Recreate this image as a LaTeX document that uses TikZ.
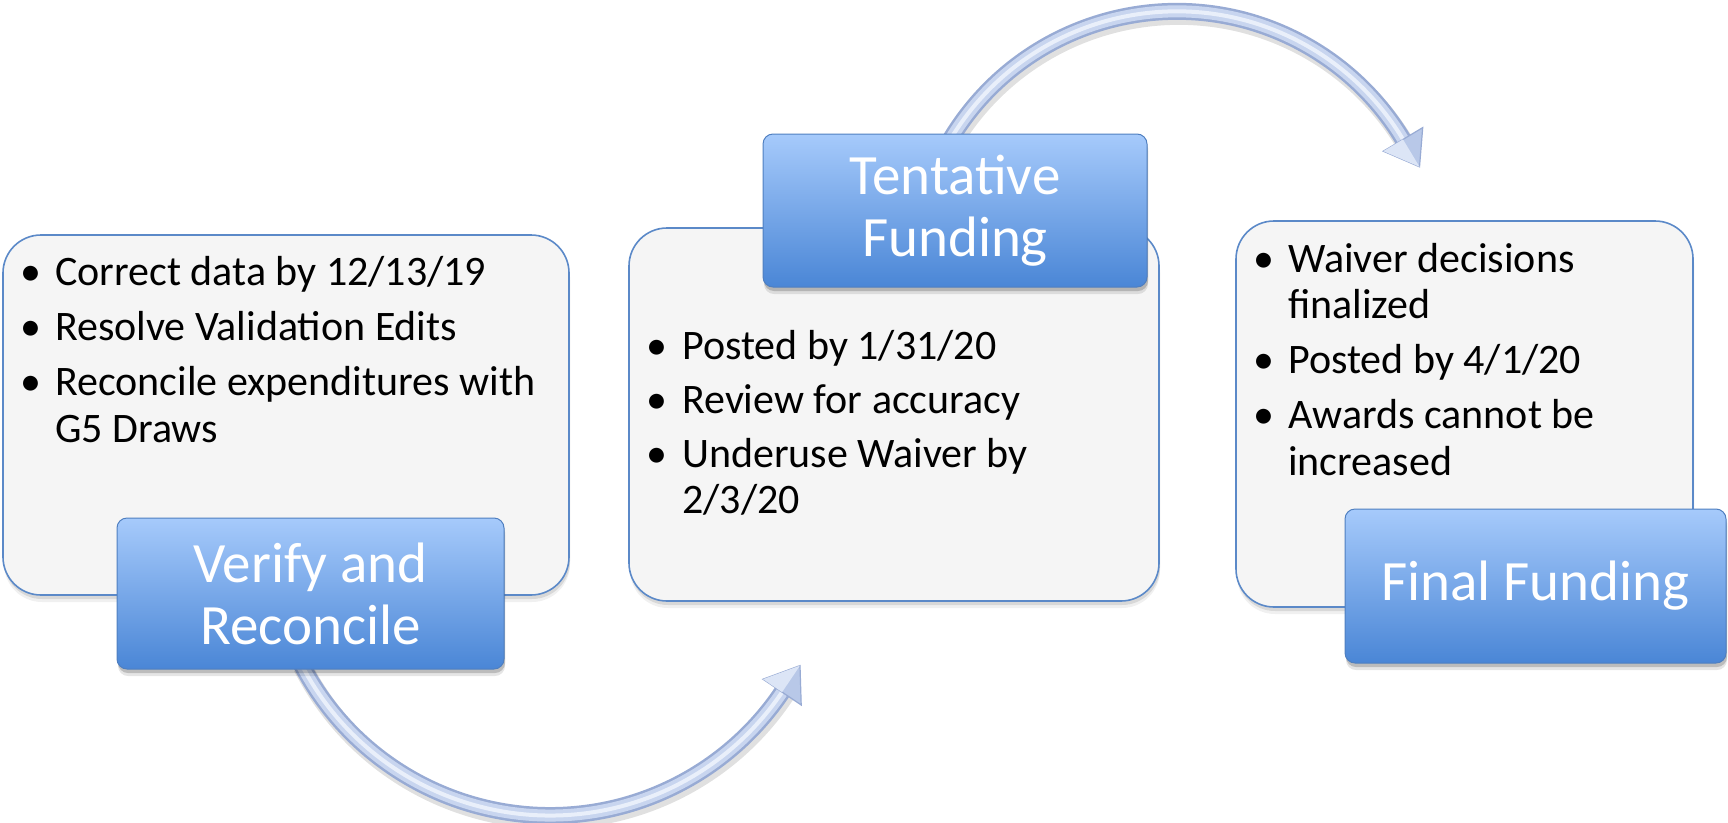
\documentclass[tikz,border=0pt]{standalone}
\usepackage{fontspec}
\setmainfont{Carlito}
\definecolor{boxfill}{HTML}{F5F5F5}
\definecolor{boxedge}{HTML}{5B89C8}
\definecolor{lbltop}{HTML}{A6CAFB}
\definecolor{lblmid}{HTML}{8AB5F2}
\definecolor{lblbot}{HTML}{4A86D6}
\definecolor{lbledge}{HTML}{4F7FC0}
\definecolor{arrout}{HTML}{98ABD4}
\definecolor{arrin}{HTML}{C8D5EF}
\definecolor{arrhi}{HTML}{E9EFFA}
\definecolor{arrhead}{HTML}{B8C8E8}
\definecolor{arrheadhi}{HTML}{DCE5F6}
\newcommand{\bulletbox}[1]{\makebox[#1][l]{•}}
\tikzset{
  infobox/.style={draw=boxedge, line width=1.6pt, fill=boxfill, rounded corners=38pt, inner sep=0pt,
    preaction={fill=black, fill opacity=0.06, transform canvas={xshift=1pt,yshift=-7pt}},
    preaction={fill=black, fill opacity=0.10, transform canvas={xshift=1pt,yshift=-4pt}}},
  stagebox/.style={draw=lbledge, line width=1pt, rounded corners=10pt, top color=lbltop,
    middle color=lblmid, bottom color=lblbot, text=white, align=center,
    font=\fontsize{57}{62}\selectfont, inner sep=0pt,
    preaction={fill=black, fill opacity=0.10, transform canvas={xshift=1pt,yshift=-7pt}},
    preaction={fill=black, fill opacity=0.18, transform canvas={xshift=1pt,yshift=-4pt}}},
  bl/.style={anchor=base west, inner sep=0pt, text=black, font=\fontsize{42}{47}\selectfont},
  arrshadow/.style={draw=black, draw opacity=0.12, line width=19pt, line cap=butt,
    transform canvas={xshift=2pt,yshift=-4pt}},
  arrouter/.style={draw=arrout, line width=17pt, line cap=butt},
  arrinner/.style={draw=arrin, line width=12pt, line cap=butt},
  arrhigh/.style={draw=arrhi, line width=4pt, line cap=butt},
  arrtip/.style={fill=arrhead, draw=arrout, line width=1.2pt, line join=miter},
  arrtiphi/.style={fill=arrheadhi},
}
\begin{document}
\begin{tikzpicture}[x=1pt,y=-1pt]
\useasboundingbox (0,0) rectangle (1728,822);

% content boxes
\node[infobox, minimum width=566pt, minimum height=360pt] (box1) at (286,415) {};
\node[infobox, minimum width=530pt, minimum height=373pt] (box2) at (894,414.5) {};
\node[infobox, minimum width=457pt, minimum height=386pt] (box3) at (1464.5,414) {};

% box texts
\node[bl] (t1a) at (20,285) {\bulletbox{35pt}Correct data by 12/13/19};
\node[bl] (t1b) at (20,340) {\bulletbox{35pt}Resolve Validation Edits};
\node[bl] (t1c) at (20,395) {\bulletbox{35pt}Reconcile expenditures with};
\node[bl] (t1d) at (55,442) {G5 Draws};

\node[bl] (t2a) at (646,359) {\bulletbox{36pt}Posted by 1/31/20};
\node[bl] (t2b) at (646,413) {\bulletbox{36pt}Review for accuracy};
\node[bl] (t2c) at (646,467) {\bulletbox{36pt}Underuse Waiver by};
\node[bl] (t2d) at (682,513) {2/3/20};

\node[bl] (t3a) at (1253,272) {\bulletbox{35pt}Waiver decisions};
\node[bl] (t3b) at (1288,318) {finalized};
\node[bl] (t3c) at (1253,373) {\bulletbox{35pt}Posted by 4/1/20};
\node[bl] (t3d) at (1253,428) {\bulletbox{35pt}Awards cannot be};
\node[bl] (t3e) at (1288,475) {increased};

% arrow 1 (bottom)
\coordinate (a1s) at (300.5,662.6);
\coordinate (a1b) at (782.1,692.1);
\coordinate (a1t) at (800,665.6);
\coordinate (a1l) at (763.0,679.2);
\coordinate (a1r) at (801.2,705.0);
\draw[arrshadow] (a1s) arc[start angle=153, end angle=33, radius=280];
\draw[arrouter] (a1s) arc[start angle=153, end angle=33, radius=280];
\draw[arrinner] (a1s) arc[start angle=153, end angle=33, radius=280];
\draw[arrhigh] (a1s) arc[start angle=153, end angle=33, radius=280];
\filldraw[arrtip] (a1l) -- (a1t) -- (a1r) -- cycle;
\fill[arrtiphi] (a1l) -- (a1t) -- (a1b) -- cycle;

% arrow 2 (top)
\coordinate (a2s) at (950.4,139.4);
\coordinate (a2b) at (1403.0,139.4);
\coordinate (a2t) at (1419.5,166.8);
\coordinate (a2l) at (1422.7,127.6);
\coordinate (a2r) at (1383.3,151.2);
\draw[arrshadow] (a2s) arc[start angle=211, end angle=330, radius=264];
\draw[arrouter] (a2s) arc[start angle=211, end angle=330, radius=264];
\draw[arrinner] (a2s) arc[start angle=211, end angle=330, radius=264];
\draw[arrhigh] (a2s) arc[start angle=211, end angle=330, radius=264];
\filldraw[arrtip] (a2l) -- (a2t) -- (a2r) -- cycle;
\fill[arrtiphi] (a2r) -- (a2t) -- (a2b) -- cycle;

% stage labels
\node[stagebox, minimum width=387pt, minimum height=151pt] (lab1) at (310.5,593.5) {Verify and\\Reconcile};
\node[stagebox, minimum width=384pt, minimum height=153pt] (lab2) at (955,210.5) {Tentative\\Funding};
\node[stagebox, minimum width=381pt, minimum height=154pt] (lab3) at (1535.5,586) {Final Funding};
\end{tikzpicture}
\end{document}
